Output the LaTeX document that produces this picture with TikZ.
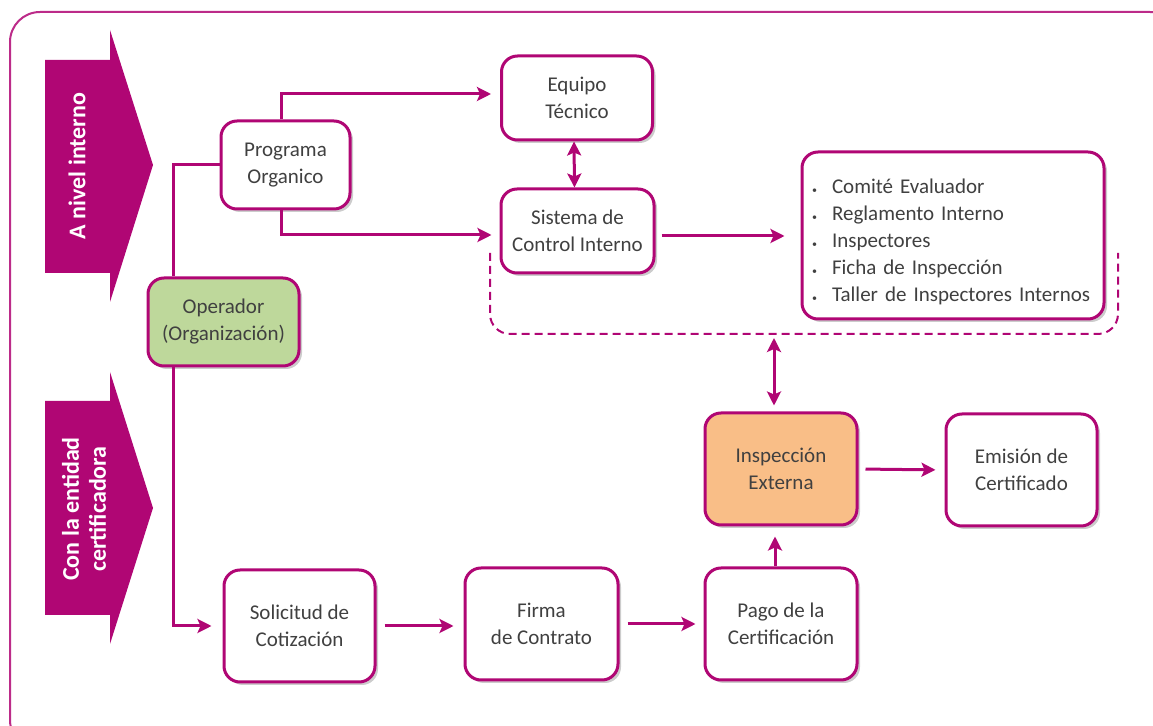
\documentclass[tikz,border=0pt]{standalone}
\usepackage{fontspec}
\setmainfont{Carlito}
\usetikzlibrary{arrows.meta,shadows}

\definecolor{mag}{RGB}{176,6,116}
\definecolor{verde}{RGB}{190,216,155}
\definecolor{naranja}{RGB}{249,190,135}
\definecolor{texto}{RGB}{64,64,64}

\tikzset{
  caja/.style={draw=mag, line width=1.5pt, rounded corners=8pt, fill=white,
    text=texto, align=center, inner sep=2pt,
    font=\fontsize{10.5}{13.5}\selectfont,
    minimum width=75.5pt, minimum height=56pt,
    drop shadow={shadow xshift=1.5pt, shadow yshift=-1.5pt, opacity=0.2, fill=black}},
  flecha/.style={draw=mag, line width=1.5pt,
    -{Stealth[length=7pt,width=7pt,inset=1.5pt]}},
  doble/.style={flecha, {Stealth[length=7pt,width=7pt,inset=1.5pt]}-{Stealth[length=7pt,width=7pt,inset=1.5pt]}},
  linea/.style={draw=mag, line width=1.5pt},
  etiqueta/.style={text=white, rotate=90, align=center,
    font=\fontsize{12}{13.5}\selectfont\bfseries}
}

\begin{document}
\begin{tikzpicture}[x=0.5pt, y=-0.5pt]
  \useasboundingbox (0,0) rectangle (1153,726);
  \clip (0,0) rectangle (1153,726);
  \draw[mag!85, line width=1pt, rounded corners=15pt] (10,12) rectangle (1180,750);

  \fill[mag] (45,60) -- (110,60) -- (110,30) -- (153,165) -- (110,302) -- (110,273) -- (45,273) -- cycle;
  \node[etiqueta] (interno) at (77,166) {A nivel interno};
  \fill[mag] (45,401) -- (110,401) -- (110,372) -- (153,508) -- (110,644) -- (110,615) -- (45,615) -- cycle;
  \node[etiqueta] (entidad) at (84,509) {Con la entidad\\certificadora};

  \node[caja, minimum width=75.5pt, minimum height=42pt] (equipo) at (577,98) {Equipo\\Técnico};
  \node[caja, minimum width=64.5pt, minimum height=44pt] (prog) at (285.5,165) {Programa\\Organico};
  \node[caja, minimum width=76.5pt, minimum height=42pt] (sist) at (577.5,231) {Sistema de\\Control Interno};
  \node[caja, minimum width=151pt, minimum height=83.5pt, align=left, text width=141pt, inner xsep=5pt] (lista) at (953,235.5)
    {\rule{0pt}{14pt}\makebox[10pt][l]{\tiny\textbullet}Comité Evaluador\\
     \makebox[10pt][l]{\tiny\textbullet}Reglamento Interno\\
     \makebox[10pt][l]{\tiny\textbullet}Inspectores\\
     \makebox[10pt][l]{\tiny\textbullet}Ficha de Inspección\\
     \makebox[10pt][l]{\tiny\textbullet}Taller de Inspectores Internos};
  \node[caja, fill=verde, minimum width=75.5pt, minimum height=44pt] (oper) at (223.5,322) {Operador\\(Organización)};
  \node[caja, fill=naranja, minimum width=76pt] (insp) at (781,469) {Inspección\\Externa};
  \node[caja] (emis) at (1021.5,470) {Emisión de\\Certificado};
  \node[caja] (soli) at (299.5,626) {Solicitud de\\Cotización};
  \node[caja, minimum width=76.5pt] (firma) at (541.5,624) {Firma\\de Contrato};
  \node[caja, minimum width=76pt] (pago) at (781,624) {Pago de la\\Certificación};

  \draw[linea] ([xshift=-25pt]oper.north) |- (prog.west);
  \draw[flecha, shorten >=5.5pt] ([xshift=-25pt]oper.south) |- (soli.west);
  \draw[flecha, shorten >=4.5pt] ([xshift=-2.25pt]prog.north) |- ([yshift=2pt]equipo.west);
  \draw[flecha, shorten >=4pt] ([xshift=-2.25pt]prog.south) |- ([yshift=-2pt]sist.west);
  \draw[doble] ([xshift=-1.5pt]equipo.south) -- ([xshift=-1.5pt]sist.north);
  \draw[flecha, shorten <=3pt, shorten >=8pt] ([yshift=-2.5pt]sist.east) -- ([yshift=-2.5pt]sist.east -| lista.west);

  \coordinate (dl) at (490,253);
  \coordinate (dr) at (1118,253);
  \coordinate (dm) at (774,334);
  \draw[mag, line width=1pt, dash pattern=on 4pt off 2.5pt, rounded corners=10pt]
    (dl) -- (dl |- dm) -- (dr |- dm) -- (dr);
  \draw[doble, shorten <=2pt, shorten >=3pt] (dm) -- (dm |- insp.north);

  \draw[flecha, shorten <=3.5pt, shorten >=4.5pt] (insp.east) -- (emis.west);
  \draw[flecha, shorten >=5pt] ([xshift=-3pt]pago.north) -- ([xshift=-3pt]insp.south);
  \draw[flecha, shorten <=4pt, shorten >=5pt] (soli.east) -- (soli.east -| firma.west);
  \draw[flecha, shorten <=4pt, shorten >=4pt] (firma.east) -- (firma.east -| pago.west);
\end{tikzpicture}
\end{document}
